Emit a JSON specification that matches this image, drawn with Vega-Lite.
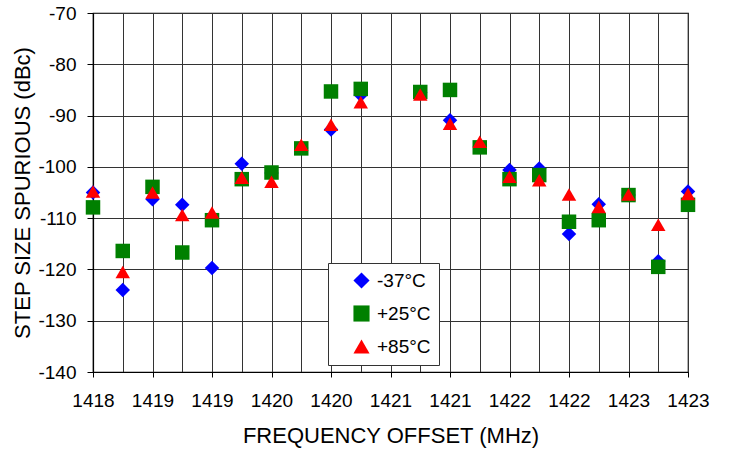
{
  "$schema": "https://vega.github.io/schema/vega-lite/v6.json",
  "autosize": "none",
  "width": 595,
  "height": 359,
  "padding": {"left": 93, "top": 13, "right": 41, "bottom": 79},
  "background": "white",
  "config": {
    "font": "Liberation Sans",
    "view": {"stroke": "#000000", "strokeWidth": 1.2}
  },
  "data": {
    "values": [
      {"f": 1418, "s": "-37°C", "v": -105.0},
      {"f": 1418.25, "s": "-37°C", "v": -124.0},
      {"f": 1418.5, "s": "-37°C", "v": -106.3},
      {"f": 1418.75, "s": "-37°C", "v": -107.4},
      {"f": 1419, "s": "-37°C", "v": -119.7},
      {"f": 1419.25, "s": "-37°C", "v": -99.4},
      {"f": 1419.5, "s": "-37°C", "v": -101.2},
      {"f": 1419.75, "s": "-37°C", "v": -96.3},
      {"f": 1420, "s": "-37°C", "v": -92.7},
      {"f": 1420.25, "s": "-37°C", "v": -86.0},
      {"f": 1420.75, "s": "-37°C", "v": -85.5},
      {"f": 1421, "s": "-37°C", "v": -90.9},
      {"f": 1421.25, "s": "-37°C", "v": -96.0},
      {"f": 1421.5, "s": "-37°C", "v": -100.6},
      {"f": 1421.75, "s": "-37°C", "v": -100.3},
      {"f": 1422, "s": "-37°C", "v": -113.1},
      {"f": 1422.25, "s": "-37°C", "v": -107.3},
      {"f": 1422.5, "s": "-37°C", "v": -105.5},
      {"f": 1422.75, "s": "-37°C", "v": -118.4},
      {"f": 1423, "s": "-37°C", "v": -104.8},
      {"f": 1418, "s": "+25°C", "v": -107.9},
      {"f": 1418.25, "s": "+25°C", "v": -116.4},
      {"f": 1418.5, "s": "+25°C", "v": -103.9},
      {"f": 1418.75, "s": "+25°C", "v": -116.7},
      {"f": 1419, "s": "+25°C", "v": -110.4},
      {"f": 1419.25, "s": "+25°C", "v": -102.4},
      {"f": 1419.5, "s": "+25°C", "v": -101.1},
      {"f": 1419.75, "s": "+25°C", "v": -96.4},
      {"f": 1420, "s": "+25°C", "v": -85.3},
      {"f": 1420.25, "s": "+25°C", "v": -84.8},
      {"f": 1420.75, "s": "+25°C", "v": -85.4},
      {"f": 1421, "s": "+25°C", "v": -85.0},
      {"f": 1421.25, "s": "+25°C", "v": -96.2},
      {"f": 1421.5, "s": "+25°C", "v": -102.4},
      {"f": 1421.75, "s": "+25°C", "v": -101.6},
      {"f": 1422, "s": "+25°C", "v": -110.7},
      {"f": 1422.25, "s": "+25°C", "v": -110.4},
      {"f": 1422.5, "s": "+25°C", "v": -105.5},
      {"f": 1422.75, "s": "+25°C", "v": -119.5},
      {"f": 1423, "s": "+25°C", "v": -107.4},
      {"f": 1418, "s": "+85°C", "v": -104.8},
      {"f": 1418.25, "s": "+85°C", "v": -120.5},
      {"f": 1418.5, "s": "+85°C", "v": -105.0},
      {"f": 1418.75, "s": "+85°C", "v": -109.4},
      {"f": 1419, "s": "+85°C", "v": -108.9},
      {"f": 1419.25, "s": "+85°C", "v": -102.1},
      {"f": 1419.5, "s": "+85°C", "v": -102.9},
      {"f": 1419.75, "s": "+85°C", "v": -95.7},
      {"f": 1420, "s": "+85°C", "v": -91.8},
      {"f": 1420.25, "s": "+85°C", "v": -87.4},
      {"f": 1420.75, "s": "+85°C", "v": -85.9},
      {"f": 1421, "s": "+85°C", "v": -91.6},
      {"f": 1421.25, "s": "+85°C", "v": -95.1},
      {"f": 1421.5, "s": "+85°C", "v": -101.9},
      {"f": 1421.75, "s": "+85°C", "v": -102.6},
      {"f": 1422, "s": "+85°C", "v": -105.4},
      {"f": 1422.25, "s": "+85°C", "v": -107.8},
      {"f": 1422.5, "s": "+85°C", "v": -105.4},
      {"f": 1422.75, "s": "+85°C", "v": -111.3},
      {"f": 1423, "s": "+85°C", "v": -105.3}
    ]
  },
  "mark": {"type": "point", "filled": true, "opacity": 1, "strokeWidth": 0, "size": 210, "clip": false},
  "encoding": {
    "x": {
      "field": "f",
      "type": "quantitative",
      "scale": {"domain": [1418, 1423], "nice": false, "zero": false},
      "axis": {
        "title": "FREQUENCY OFFSET (MHz)",
        "titleFontSize": 22,
        "titleFontWeight": "normal",
        "titleColor": "#000000",
        "titlePadding": 15,
        "values": [1418, 1418.25, 1418.5, 1418.75, 1419, 1419.25, 1419.5, 1419.75, 1420, 1420.25, 1420.5, 1420.75, 1421, 1421.25, 1421.5, 1421.75, 1422, 1422.25, 1422.5, 1422.75, 1423],
        "labelExpr": "datum.value % 0.5 == 0 ? format(round(datum.value), 'd') : ''",
        "labelFontSize": 19,
        "labelColor": "#000000",
        "labelPadding": 14,
        "labelFlush": false,
        "labelOverlap": false,
        "domainColor": "#000000",
        "domainWidth": 1.2,
        "tickColor": "#000000",
        "tickSize": 5,
        "tickOpacity": {"condition": {"test": "datum.value % 0.5 != 0", "value": 0}, "value": 1},
        "grid": true,
        "gridColor": "#333333",
        "gridWidth": 1,
        "gridOpacity": 1
      }
    },
    "y": {
      "field": "v",
      "type": "quantitative",
      "scale": {"domain": [-140, -70], "nice": false, "zero": false},
      "axis": {
        "title": "STEP SIZE SPURIOUS (dBc)",
        "titleFontSize": 22,
        "titleFontWeight": "normal",
        "titleColor": "#000000",
        "titlePadding": 3,
        "values": [-140, -130, -120, -110, -100, -90, -80, -70],
        "labelExpr": "'' + datum.value",
        "labelFontSize": 19,
        "labelColor": "#000000",
        "labelPadding": 11,
        "labelFlush": false,
        "domainColor": "#000000",
        "domainWidth": 1.2,
        "tickColor": "#000000",
        "tickSize": 6,
        "grid": true,
        "gridColor": "#333333",
        "gridWidth": 1,
        "gridOpacity": 1
      }
    },
    "color": {
      "field": "s",
      "type": "nominal",
      "scale": {"domain": ["-37°C", "+25°C", "+85°C"], "range": ["#0000ff", "#008000", "#ff0000"]},
      "legend": {
        "title": null,
        "orient": "none",
        "legendX": 235,
        "legendY": 250,
        "direction": "vertical",
        "fillColor": "#ffffff",
        "strokeColor": "#333333",
        "padding": 8,
        "symbolOffset": 16,
        "labelFontSize": 19,
        "labelColor": "#000000",
        "labelOffset": 6,
        "rowPadding": 13,
        "symbolSize": 260,
        "symbolStrokeWidth": 0,
        "offset": 0
      }
    },
    "shape": {
      "field": "s",
      "type": "nominal",
      "scale": {"domain": ["-37°C", "+25°C", "+85°C"], "range": ["diamond", "square", "triangle-up"]},
      "legend": null
    }
  }
}
